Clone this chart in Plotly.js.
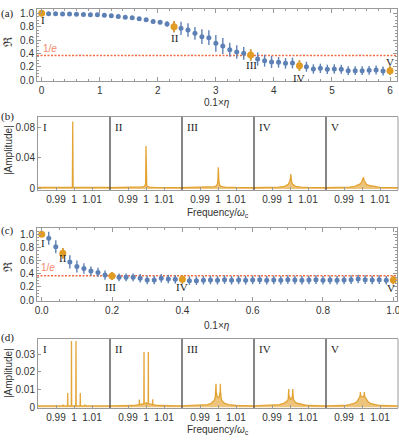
<!DOCTYPE html>
<html><head><meta charset="utf-8">
<script src="https://cdn.plot.ly/plotly-3.0.1.min.js"></script>
<style>html,body{margin:0;padding:0;background:#fff;}#chart{width:399px;height:442px;}</style>
</head><body><div id="chart"></div>
<script>
// ---------- Panel (a) data ----------
const etaA = [0,0.12,0.24,0.36,0.48,0.6,0.72,0.84,0.96,1.08,1.2,1.32,1.44,1.56,1.68,1.8,1.92,2.04,2.16,2.28,2.4,2.52,2.64,2.76,2.88,3.0,3.12,3.24,3.36,3.48,3.6,3.72,3.84,3.96,4.08,4.2,4.32,4.44,4.56,4.68,4.8,4.92,5.04,5.16,5.28,5.4,5.52,5.64,5.76,5.88,6.0];
const rA = [1.0,0.995,0.993,0.99,0.99,0.986,0.984,0.98,0.977,0.97,0.962,0.953,0.943,0.932,0.918,0.902,0.878,0.865,0.84,0.80,0.775,0.75,0.70,0.65,0.635,0.55,0.51,0.455,0.42,0.40,0.375,0.315,0.29,0.27,0.265,0.25,0.255,0.215,0.20,0.165,0.175,0.16,0.165,0.16,0.14,0.14,0.14,0.145,0.15,0.135,0.14];
const errA = [0.005,0.006,0.006,0.006,0.006,0.006,0.007,0.007,0.008,0.008,0.009,0.01,0.01,0.012,0.014,0.02,0.035,0.03,0.04,0.085,0.1,0.1,0.095,0.11,0.11,0.125,0.12,0.105,0.1,0.095,0.085,0.1,0.09,0.09,0.08,0.08,0.08,0.08,0.075,0.07,0.07,0.07,0.07,0.068,0.066,0.066,0.066,0.066,0.066,0.066,0.066];
const markA = [0,19,30,37,50];
const romanA = ['I','II','III','IV','V'];

// ---------- Panel (c) data ----------
const etaC = [0,0.02,0.04,0.06,0.08,0.1,0.12,0.14,0.16,0.18,0.2,0.22,0.24,0.26,0.28,0.3,0.32,0.34,0.36,0.38,0.4,0.42,0.44,0.46,0.48,0.5,0.52,0.54,0.56,0.58,0.6,0.62,0.64,0.66,0.68,0.7,0.72,0.74,0.76,0.78,0.8,0.82,0.84,0.86,0.88,0.9,0.92,0.94,0.96,0.98,1.0];
const rC = [1.0,0.94,0.81,0.71,0.58,0.51,0.48,0.44,0.42,0.38,0.365,0.345,0.345,0.345,0.33,0.305,0.305,0.33,0.32,0.315,0.315,0.295,0.295,0.30,0.305,0.30,0.31,0.30,0.305,0.30,0.305,0.31,0.30,0.305,0.30,0.31,0.305,0.30,0.305,0.31,0.30,0.305,0.30,0.305,0.31,0.32,0.31,0.305,0.31,0.30,0.305];
const errC = [0.01,0.1,0.1,0.08,0.1,0.09,0.08,0.07,0.07,0.07,0.06,0.06,0.06,0.06,0.065,0.065,0.065,0.065,0.065,0.065,0.065,0.065,0.065,0.065,0.065,0.065,0.065,0.065,0.065,0.065,0.065,0.065,0.065,0.065,0.065,0.065,0.065,0.065,0.065,0.065,0.065,0.065,0.065,0.065,0.065,0.065,0.065,0.065,0.065,0.065,0.065];
const markC = [0,3,10,20,50];

// ---------- Panel (b) spectra ----------
const fB1 = [0.98,0.9991,0.9993,0.9995,1.02];
const aB1 = [0.002,0.002,0.087,0.002,0.002];
const fB2 = [0.98,0.99,0.995,0.998,0.9993,0.9996,0.9998,1.0,1.0002,1.0004,1.0007,1.002,1.005,1.01,1.02];
const aB2 = [0.0018,0.002,0.0022,0.0028,0.0035,0.005,0.007,0.0555,0.007,0.005,0.0035,0.0025,0.002,0.0018,0.0018];
const fB3 = [0.98,0.99,0.996,0.998,0.999,0.9996,0.9999,1.0002,1.0005,1.0008,1.001,1.002,1.004,1.01,1.02];
const aB3 = [0.0018,0.0022,0.0025,0.003,0.004,0.006,0.01,0.028,0.01,0.006,0.0045,0.003,0.0025,0.002,0.0018];
const fB4 = [0.98,0.99,0.994,0.997,0.998,0.999,0.9997,1.0002,1.0004,1.0006,1.001,1.0015,1.002,1.003,1.006,1.01,1.02];
const aB4 = [0.0018,0.002,0.0025,0.0035,0.0045,0.006,0.009,0.013,0.0194,0.012,0.008,0.006,0.0048,0.0035,0.0025,0.002,0.0018];
const fB5 = [0.98,0.99,0.993,0.996,0.998,0.999,0.9998,1.0004,1.0008,1.0012,1.0018,1.0025,1.004,1.007,1.01,1.02];
const aB5 = [0.0018,0.002,0.0025,0.0035,0.005,0.0065,0.009,0.012,0.0151,0.011,0.008,0.006,0.0045,0.003,0.002,0.0018];

// ---------- Panel (d) spectra ----------
const fD1 = [0.98,0.9939,0.994,0.9941,0.9964,0.9965,0.9966,0.9985,0.9986,0.9987,1.001,1.0011,1.0012,1.0034,1.0035,1.0036,1.0059,1.006,1.0061,1.02];
const aD1 = [0.0008,0.0008,0.0015,0.0008,0.0008,0.0081,0.0008,0.0008,0.0375,0.0008,0.0008,0.0375,0.0008,0.0008,0.0081,0.0008,0.0008,0.0015,0.0008,0.0008];
const fD2 = [0.98,0.993,0.9962,0.9963,0.9964,0.9975,0.9988,0.9989,0.999,1.0,1.0001,1.0002,1.0012,1.0013,1.0014,1.0025,1.0036,1.0037,1.0038,1.007,1.02];
const aD2 = [0.0008,0.001,0.0015,0.0044,0.0015,0.0018,0.002,0.0312,0.002,0.0022,0.003,0.0022,0.002,0.0312,0.002,0.0018,0.0015,0.0045,0.0015,0.001,0.0008];
const fD3 = [0.98,0.99,0.994,0.996,0.997,0.998,0.9985,0.9988,0.9989,0.999,0.9995,1.0001,1.0007,1.0012,1.0013,1.0014,1.0017,1.002,1.003,1.004,1.006,1.01,1.02];
const aD3 = [0.0008,0.001,0.0015,0.002,0.0028,0.004,0.006,0.009,0.0133,0.009,0.006,0.0055,0.006,0.009,0.0133,0.009,0.006,0.004,0.0028,0.002,0.0015,0.001,0.0008];
const fD4 = [0.98,0.99,0.994,0.996,0.998,0.999,0.9992,0.9993,0.9994,0.9999,1.0004,1.0009,1.0014,1.0015,1.0016,1.0019,1.0025,1.003,1.005,1.008,1.01,1.02];
const aD4 = [0.0008,0.001,0.0015,0.002,0.0032,0.0045,0.0065,0.0103,0.0065,0.005,0.0045,0.005,0.0065,0.0103,0.0065,0.0045,0.0035,0.0028,0.002,0.0012,0.001,0.0008];
const fD5 = [0.98,0.99,0.993,0.995,0.997,0.998,0.9986,0.999,0.9991,0.9992,0.9997,1.0002,1.0007,1.0012,1.0013,1.0014,1.0018,1.0025,1.0035,1.005,1.007,1.01,1.02];
const aD5 = [0.0008,0.001,0.0015,0.002,0.003,0.0042,0.0055,0.0068,0.0086,0.0068,0.006,0.0058,0.006,0.0068,0.0086,0.0068,0.0055,0.0042,0.003,0.002,0.0015,0.001,0.0008];

const specB = [[fB1,aB1],[fB2,aB2],[fB3,aB3],[fB4,aB4],[fB5,aB5]];
const specD = [[fD1,aD1],[fD2,aD2],[fD3,aD3],[fD4,aD4],[fD5,aD5]];
const freqTicks = [0.99,1,1.01];
const freqTickText = ['0.99','1','1.01'];

// ---------- styling ----------
const W = 399, H = 442;
const px = v => v / W;
const py = v => 1 - v / H;
const BLUE = '#5E81B5', ORANGE = '#E19C24', RED = '#F26B43';
const SANS = 'Liberation Sans, Arial, sans-serif';
const SERIF = 'Liberation Serif, Times New Roman, serif';
const tickFont = {family: SANS, size: 10, color: '#333'};

function baseAxis(o) {
  return Object.assign({
    showline: true, linecolor: '#9a9a9a', linewidth: 1,
    ticks: 'inside', ticklen: 4, tickcolor: '#9a9a9a', tickwidth: 1,
    showgrid: false, zeroline: false, tickfont: tickFont, fixedrange: true,
    ticklabeloverflow: 'allow'
  }, o);
}

const data = [];
const layout = {
  width: W, height: H, margin: {l: 0, r: 0, t: 0, b: 0},
  paper_bgcolor: '#fff', plot_bgcolor: 'rgba(0,0,0,0)', showlegend: false,
  shapes: [], annotations: []
};

// Panel (a)
layout.xaxis = baseAxis({domain: [px(37), px(397)], anchor: 'y', range: [-0.08, 6.12],
  tickvals: [0,1,2,3,4,5,6], mirror: 'allticks', minor: {dtick: 0.2, ticklen: 2, tickcolor: '#9a9a9a', ticks: 'inside'}});
layout.yaxis = baseAxis({domain: [py(81), py(9)], anchor: 'x', range: [-0.015, 1.065],
  tickvals: [0,0.2,0.4,0.6,0.8,1.0], tickformat: '.1f', mirror: 'allticks',
  minor: {dtick: 0.05, ticklen: 2, tickcolor: '#9a9a9a', ticks: 'inside'}});
// Panel (c)
layout.xaxis7 = baseAxis({domain: [px(37), px(397)], anchor: 'y3', range: [-0.0134, 1.0105],
  tickvals: [0,0.2,0.4,0.6,0.8,1.0], tickformat: '.1f', mirror: 'allticks',
  minor: {dtick: 0.05, ticklen: 2, tickcolor: '#9a9a9a', ticks: 'inside'}});
layout.yaxis3 = baseAxis({domain: [py(301), py(228)], anchor: 'x7', range: [-0.015, 1.096],
  tickvals: [0,0.2,0.4,0.6,0.8,1.0], tickformat: '.1f', mirror: 'allticks',
  minor: {dtick: 0.05, ticklen: 2, tickcolor: '#9a9a9a', ticks: 'inside'}});

function scatterPanel(xs, ys, errs, marks, xa, ya) {
  data.push({type: 'scatter', mode: 'markers', x: xs, y: ys, xaxis: xa, yaxis: ya,
    marker: {color: BLUE, size: 5},
    error_y: {type: 'data', array: errs, color: BLUE, thickness: 1.4, width: 0}});
  data.push({type: 'scatter', mode: 'markers',
    x: marks.map(i => xs[i]), y: marks.map(i => ys[i]), xaxis: xa, yaxis: ya,
    marker: {color: ORANGE, size: 7},
    error_y: {type: 'data', array: marks.map(i => errs[i]), color: ORANGE, thickness: 1.6, width: 0}});
}
scatterPanel(etaA, rA, errA, markA, 'x', 'y');
scatterPanel(etaC, rC, errC, markC, 'x7', 'y3');

// 1/e dashed lines
[['x','y'],['x7','y3']].forEach(([xa,ya]) => {
  layout.shapes.push({type: 'line', xref: xa + ' domain', yref: ya, x0: 0, x1: 1,
    y0: Math.exp(-1), y1: Math.exp(-1), layer: 'below',
    line: {color: RED, width: 1.5, dash: '2px,1.5px'}});
});

// Spectra panels
const edges = [38,110,182,254,326,398];
function spectraPanel(specs, xStart, yName, yTop, yBot, yRange, yTicks, yText) {
  const yKey = 'yaxis' + yName.slice(1);
  layout[yKey] = baseAxis({domain: [py(yBot), py(yTop)], anchor: 'x' + xStart, range: yRange,
    tickvals: yTicks, ticktext: yText, mirror: false, ticklen: 3});
  specs.forEach((s, k) => {
    const n = xStart + k;
    layout['xaxis' + n] = baseAxis({domain: [px(edges[k]), px(edges[k+1])], anchor: yName,
      range: [0.98, 1.02], tickvals: freqTicks, ticktext: freqTickText, mirror: true, ticklen: 3});
    data.push({type: 'scatter', mode: 'lines', x: s[0], y: s[1], xaxis: 'x' + n, yaxis: yName,
      line: {color: 'rgba(225,156,36,0.9)', width: 1.3}, fill: 'tozeroy',
      fillcolor: 'rgba(225,156,36,0.6)'});
    layout.annotations.push({xref: 'paper', yref: 'paper', x: px(edges[k] + 3), y: py(yTop + 10),
      xanchor: 'left', yanchor: 'middle', text: romanA[k], showarrow: false,
      font: {family: SERIF, size: 11, color: '#222'}});
    if (k > 0) {
      layout.shapes.push({type: 'line', xref: 'paper', yref: 'paper', x0: px(edges[k]), x1: px(edges[k]),
        y0: py(yBot), y1: py(yTop), line: {color: '#444', width: 1.3}});
    }
  });
  layout.shapes.push({type: 'line', xref: 'paper', yref: 'paper', x0: px(398), x1: px(398),
    y0: py(yBot), y1: py(yTop), line: {color: '#9a9a9a', width: 1}});
}
spectraPanel(specB, 2, 'y2', 117, 190, [-0.0013, 0.0929], [0,0.04,0.08], ['0','0.04','0.08']);
spectraPanel(specD, 8, 'y4', 339, 408, [-0.0004, 0.0386], [0,0.01,0.02,0.03], ['0','0.01','0.02','0.03']);

// Text annotations
function txt(x, y, text, font, extra) {
  layout.annotations.push(Object.assign({xref: 'paper', yref: 'paper', x: px(x), y: py(y),
    text: text, showarrow: false, xanchor: 'center', yanchor: 'middle', font: font}, extra || {}));
}
const serif = {family: SERIF, size: 11, color: '#222'};
const sansT = {family: SANS, size: 10, color: '#333'};
txt(7, 13, '(a)', serif);
txt(7, 117, '(b)', serif);
txt(7, 230, '(c)', serif);
txt(7, 337, '(d)', serif);
txt(8, 42, 'ℜ', {family: SERIF, size: 12, color: '#333'}, {textangle: -90});
txt(8, 267, 'ℜ', {family: SERIF, size: 12, color: '#333'}, {textangle: -90});
txt(8, 150, '|Amplitude|', sansT, {textangle: -90});
txt(8, 373, '|Amplitude|', sansT, {textangle: -90});
txt(217, 102, '0.1×<i>η</i>', sansT);
txt(217, 325, '0.1×<i>η</i>', sansT);
txt(218, 213, 'Frequency/<i>ω</i><sub>c</sub>', sansT);
txt(218, 430, 'Frequency/<i>ω</i><sub>c</sub>', sansT);

// Roman numerals next to highlighted points (data coords)
const labA = [[0.02,0.90],[2.3,0.63],[3.61,0.225],[4.44,0.03],[6.0,0.27]];
const labC = [[0.003,0.863],[0.06,0.635],[0.197,0.2],[0.398,0.2],[0.993,0.19]];
labA.forEach((p,i) => layout.annotations.push({xref:'x', yref:'y', x:p[0], y:p[1], text: romanA[i],
  showarrow:false, font: serif}));
labC.forEach((p,i) => layout.annotations.push({xref:'x7', yref:'y3', x:p[0], y:p[1], text: romanA[i],
  showarrow:false, font: serif}));
// 1/e labels
layout.annotations.push({xref:'x', yref:'y', x:0.14, y:0.475, text:'1/<i>e</i>', showarrow:false,
  font:{family:SANS, size:10, color:'#F4876A'}});
layout.annotations.push({xref:'x7', yref:'y3', x:0.018, y:0.49, text:'1/<i>e</i>', showarrow:false,
  font:{family:SANS, size:10, color:'#F4876A'}});

Plotly.newPlot('chart', data, layout, {staticPlot: true, displayModeBar: false});
</script>
</body></html>
